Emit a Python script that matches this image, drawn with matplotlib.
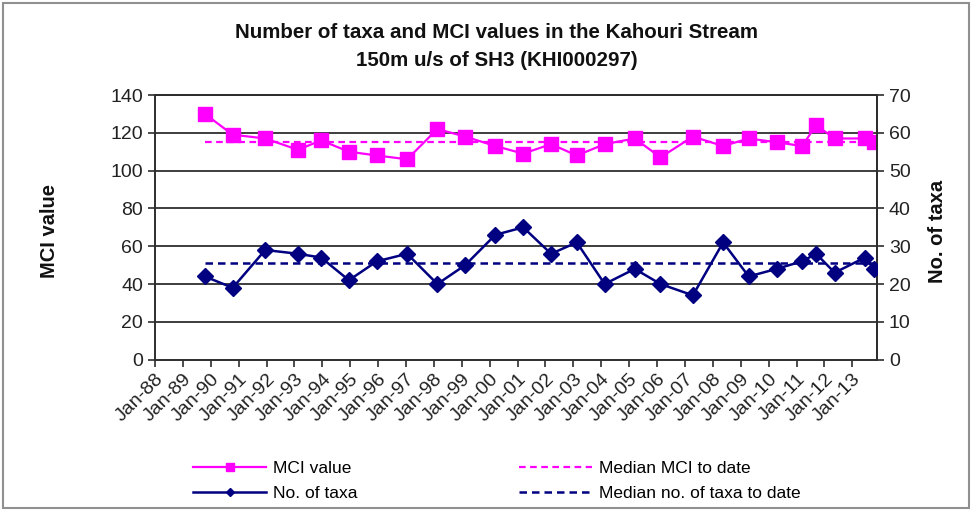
import datetime as dt
import matplotlib
matplotlib.use("Agg")
import matplotlib.pyplot as plt
from matplotlib.patches import Rectangle

plt.rcParams["font.family"] = ["Liberation Sans", "DejaVu Sans"]

# sampling dates (year, month)
fechas = [(1989, 10), (1990, 10), (1991, 12), (1993, 2), (1993, 12), (1994, 12),
          (1995, 12), (1997, 1), (1998, 2), (1999, 2), (2000, 3), (2001, 3),
          (2002, 3), (2003, 2), (2004, 2), (2005, 3), (2006, 2), (2007, 4),
          (2008, 5), (2009, 4), (2010, 4), (2011, 3), (2011, 9), (2012, 5),
          (2013, 6), (2013, 10)]
mci = [130, 119, 117, 111, 116, 110, 108, 106, 122, 118, 113, 109, 114,
       108, 114, 117, 107, 118, 113, 117, 115, 113, 124, 117, 117, 115]
taxa = [22, 19, 29, 28, 27, 21, 26, 28, 20, 25, 33, 35, 28, 31, 20, 24,
        20, 17, 31, 22, 24, 26, 28, 23, 27, 24]
mediana_mci = 115
mediana_taxa = 25.5

anios = list(range(1988, 2014))
etiquetas = ["Jan-%02d" % (a % 100) for a in anios]

fechas_dt = [dt.datetime(a, m, 15) for a, m in fechas]
rosa = "#FF00FF"
azul = "#000080"

fig = plt.figure(figsize=(9.74, 5.13), dpi=100)
ax = fig.add_axes([0.1591, 0.299, 0.7413, 0.5158])
ax2 = ax.twinx()

ax.set_ylim(0, 140)
ax.set_yticks(range(0, 141, 20))
ax2.set_ylim(0, 70)
ax2.set_yticks(range(0, 71, 10))
ax.set_xlim(dt.datetime(1988, 1, 1), dt.datetime(2013, 11, 20))

for v in range(20, 141, 20):
    ax.axhline(v, color="#2e2e2e", lw=1.3, zorder=1)

l1, = ax.plot(fechas_dt, mci, color=rosa, marker="s", ms=10.5, lw=1.6,
              label="MCI value", zorder=4)
l3, = ax.plot([fechas_dt[0], fechas_dt[-1]], [mediana_mci, mediana_mci],
              color=rosa, ls=(0, (3, 2)), lw=1.6, label="Median MCI to date",
              zorder=3)
l2, = ax2.plot(fechas_dt, taxa, color=azul, marker="D", ms=8.5, lw=1.8,
               label="No. of taxa", zorder=4)
l4, = ax2.plot([fechas_dt[0], fechas_dt[-1]], [mediana_taxa, mediana_taxa],
               color=azul, ls=(0, (3, 2)), lw=1.8,
               label="Median no. of taxa to date", zorder=3)

ax.set_xticks([dt.datetime(a, 1, 1) for a in anios])
ax.set_xticklabels(etiquetas, rotation=45, ha="right", rotation_mode="anchor")

for a in (ax, ax2):
    for s in a.spines.values():
        s.set_color("#2e2e2e")
        s.set_linewidth(1.4)
    a.tick_params(colors="#2e2e2e", labelcolor="#222222", labelsize=14,
                  length=5, width=1.2, direction="out")
ax2.spines["left"].set_visible(False)
ax2.spines["bottom"].set_visible(False)
ax.tick_params(axis="x", pad=3)

fig.text(0.51, 0.9357, "Number of taxa and MCI values in the Kahouri Stream",
         ha="center", va="center", fontsize=14.8, fontweight="bold", color="#111111")
fig.text(0.51, 0.883, "150m u/s of SH3 (KHI000297)",
         ha="center", va="center", fontsize=14.8, fontweight="bold", color="#111111")
fig.text(0.051, 0.55, "MCI value", rotation=90, ha="center", va="center",
         fontsize=14.5, fontweight="bold", color="#111111")
fig.text(0.963, 0.548, "No. of taxa", rotation=90, ha="center", va="center",
         fontsize=14.5, fontweight="bold", color="#111111")

fig.legend(handles=[l1, l2, l3, l4], ncol=2, loc="center",
           bbox_to_anchor=(0.51, 0.0623), frameon=False, fontsize=12.5,
           handlelength=4.2, handletextpad=0.4, columnspacing=9.3,
           labelspacing=0.6, markerscale=0.5)

fig.add_artist(Rectangle((3 / 974, 5 / 513), 966 / 974, 505 / 513,
                         transform=fig.transFigure, fill=False,
                         edgecolor="#909090", lw=1.5))

plt.savefig("out.png", dpi=100)
plt.close()
